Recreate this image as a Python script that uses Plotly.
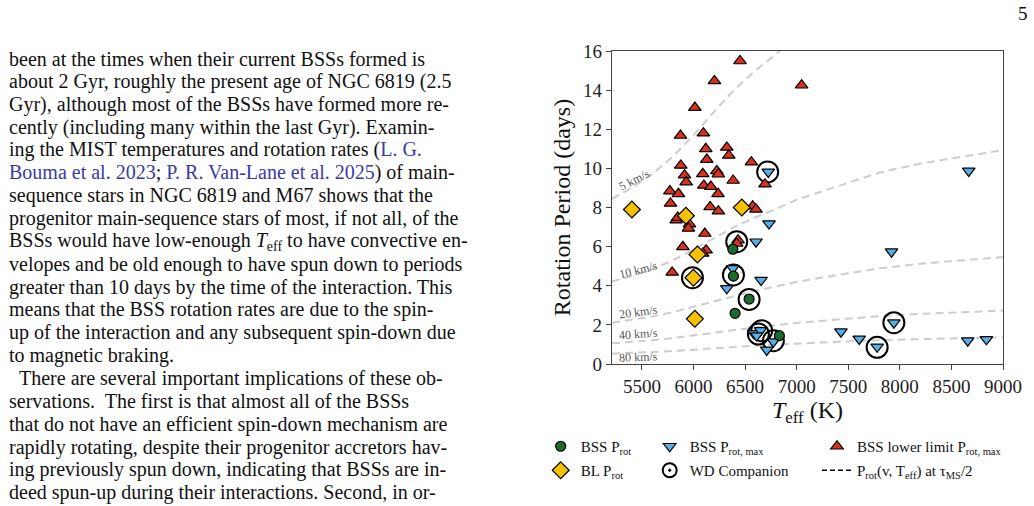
import plotly.graph_objects as go

# ---------------- data ----------------
bss_prot_T = [6381, 6387, 6539, 6403, 6832]
bss_prot_P = [5.87, 4.49, 3.32, 2.59, 1.45]

bl_prot_T = [5403, 5926, 6468, 6038, 5999, 6013]
bl_prot_P = [7.90, 7.58, 8.00, 5.60, 4.41, 2.31]

bss_max_T = [6725, 8668, 6732, 6606, 6381, 6655, 6323, 6585, 6650, 6612,
             6710, 6774, 7919, 7429, 7606, 7780, 7942, 8658, 8839]
bss_max_P = [9.82, 9.87, 7.18, 6.25, 4.89, 4.29, 3.87, 1.57, 1.72, 1.45,
             0.72, 1.14, 5.74, 1.65, 1.28, 0.88, 2.11, 1.19, 1.26]

bss_ll_T = [6451, 6203, 6013, 5874, 6096, 6119, 6323, 6342, 6129, 6561,
            5877, 6226, 5913, 6090, 6241, 5929, 6384, 6100, 6168, 6693,
            5771, 5854, 6238, 5777, 6161, 6241, 6574, 6606, 5832, 5848,
            5961, 5951, 6110, 6432, 6419, 5897, 6122, 6090, 5793, 7048]
bss_ll_P = [15.49, 14.47, 13.11, 11.68, 11.80, 11.00, 11.07, 10.66, 10.45, 10.32,
            10.15, 9.87, 9.65, 9.72, 9.70, 9.30, 9.38, 9.13, 9.07, 9.19,
            8.84, 8.70, 8.70, 8.21, 8.03, 7.81, 8.07, 7.90, 7.35, 7.49,
            7.15, 6.93, 6.67, 6.33, 6.16, 5.99, 5.82, 5.65, 4.68, 14.25]

wd_T = [6719, 6419, 5990, 6387, 6539, 6629, 6661, 6774, 7780, 7942]
wd_P = [9.82, 6.25, 4.41, 4.55, 3.30, 1.53, 1.70, 1.19, 0.85, 2.11]

# P_rot curve for v = 10 km/s (MIST radius at tau_MS/2)
curve_T = [5210, 5400, 5600, 5800, 6000, 6200, 6400, 6600, 6800, 7000,
           7400, 7800, 8200, 8600, 9000]
curve_P10 = [4.22, 4.50, 4.85, 5.30, 5.85, 6.45, 7.02, 7.50, 7.92, 8.40,
             9.10, 9.78, 10.25, 10.60, 10.93]
velocities = [5, 10, 20, 40, 80]
vel_labels = ["5 km/s", "10 km/s", "20 km/s", "40 km/s", "80 km/s"]

x_ticks = [5500, 6000, 6500, 7000, 7500, 8000, 8500, 9000]
y_ticks = [0, 2, 4, 6, 8, 10, 12, 14, 16]

LINK = "<span style='color:#3a3aa6'>{}</span>"
paragraph = [
    "been at the times when their current BSSs formed is",
    "about 2 Gyr, roughly the present age of NGC 6819 (2.5",
    "Gyr), although most of the BSSs have formed more re-",
    "cently (including many within the last Gyr). Examin-",
    "ing the MIST temperatures and rotation rates (" + LINK.format("L. G."),
    LINK.format("Bouma et al. 2023") + "; " + LINK.format("P. R. Van-Lane et al. 2025") + ") of main-",
    "sequence stars in NGC 6819 and M67 shows that the",
    "progenitor main-sequence stars of most, if not all, of the",
    "BSSs would have low-enough <i>T</i><sub>eff</sub> to have convective en-",
    "velopes and be old enough to have spun down to periods",
    "greater than 10 days by the time of the interaction. This",
    "means that the BSS rotation rates are due to the spin-",
    "up of the interaction and any subsequent spin-down due",
    "to magnetic braking.",
    "\u2002There are several important implications of these ob-",
    "servations.  The first is that almost all of the BSSs",
    "that do not have an efficient spin-down mechanism are",
    "rapidly rotating, despite their progenitor accretors hav-",
    "ing previously spun down, indicating that BSSs are in-",
    "deed spun-up during their interactions. Second, in or-",
]

# ---------------- styling / layout ----------------
W, H = 1034, 506
ML, MR, MT, MB = 612, 31, 51, 142
PW, PH = W - ML - MR, H - MT - MB
FONT = "Liberation Serif"

GREEN = "#1b6b2f"
BLUE = "#58aee6"
RED = "#d8321f"
GOLD = "#f5c100"


def px_x(px):
    return (px - ML) / PW


def px_y(py):
    return (H - MB - py) / PH


fig = go.Figure()

# dashed curves
for v, lab in zip(velocities, vel_labels):
    fig.add_trace(go.Scatter(
        x=curve_T, y=[p * 10.0 / v for p in curve_P10], mode="lines",
        line=dict(color="#cdcdcd", width=2, dash="8px,5px"),
        showlegend=False, hoverinfo="skip"))

# WD companion circles
fig.add_trace(go.Scatter(
    x=wd_T, y=wd_P, mode="markers", showlegend=False,
    marker=dict(symbol="circle-open", size=21, color="black",
                line=dict(width=2, color="black"))))

fig.add_trace(go.Scatter(
    x=bss_ll_T, y=bss_ll_P, mode="markers", name="BSS lower limit P<sub>rot, max</sub>",
    legend="legend3",
    marker=dict(symbol="triangle-up", size=11, color=RED,
                line=dict(width=1.2, color="black"))))

fig.add_trace(go.Scatter(
    x=bss_max_T, y=bss_max_P, mode="markers", name="BSS P<sub>rot, max</sub>",
    legend="legend2",
    marker=dict(symbol="triangle-down", size=11, color=BLUE,
                line=dict(width=1.2, color="black"))))

fig.add_trace(go.Scatter(
    x=bl_prot_T, y=bl_prot_P, mode="markers", name="BL P<sub>rot</sub>",
    legend="legend4",
    marker=dict(symbol="diamond", size=13, color=GOLD,
                line=dict(width=1.2, color="black"))))

fig.add_trace(go.Scatter(
    x=bss_prot_T, y=bss_prot_P, mode="markers", name="BSS P<sub>rot</sub>",
    legend="legend",
    marker=dict(symbol="circle", size=10, color=GREEN,
                line=dict(width=1.2, color="black"))))

# legend-only entries
fig.add_trace(go.Scatter(
    x=[None], y=[None], mode="markers", name="WD Companion", legend="legend5",
    marker=dict(symbol="circle-open-dot", size=14, color="black",
                line=dict(width=2, color="black"))))
fig.add_trace(go.Scatter(
    x=[None], y=[None], mode="lines", legend="legend6",
    name="P<sub>rot</sub>(v, T<sub>eff</sub>) at \u03c4<sub>MS</sub>/2",
    line=dict(color="black", width=1.6, dash="5px,3px")))

# curve labels
label_px = [(634, 180, -27), (638, 270, -14), (638, 312, -8), (638, 334, -4), (638, 357, -2)]
annotations = []
for lab, (lx, ly, ang) in zip(vel_labels, label_px):
    annotations.append(dict(
        x=px_x(lx), y=px_y(ly), xref="paper", yref="paper", text=lab,
        showarrow=False, textangle=ang, xanchor="center", yanchor="middle",
        font=dict(family=FONT, size=12, color="#555555")))

# paragraph text
line0, dy = 58.5, 22.86
for i, line in enumerate(paragraph):
    annotations.append(dict(
        x=px_x(7), y=px_y(line0 + i * dy), xref="paper", yref="paper",
        text=line, showarrow=False, xanchor="left", yanchor="middle",
        font=dict(family=FONT, size=20, color="#111111")))

# page number
annotations.append(dict(
    x=px_x(1023), y=px_y(14), xref="paper", yref="paper", text="5",
    showarrow=False, xanchor="center", yanchor="middle",
    font=dict(family=FONT, size=19, color="#111111")))

legend_common = dict(font=dict(family=FONT, size=15, color="#111111"),
                     bgcolor="rgba(0,0,0,0)", xanchor="left", yanchor="middle",
                     itemwidth=30, tracegroupgap=0)
legend_pos = {
    "legend": (562.7, 446.5), "legend2": (671.7, 446.5), "legend3": (839.0, 446.5),
    "legend4": (562.7, 470.5), "legend5": (671.7, 470.5), "legend6": (839.0, 470.5),
}
legend_layout = {}
for key, (sx, sy) in legend_pos.items():
    legend_layout[key] = dict(legend_common, x=px_x(sx - 22), y=px_y(sy))

axis_common = dict(showline=True, linecolor="#444444", linewidth=1.3, mirror=True,
                   ticks="outside", ticklen=5, tickwidth=1.2, tickcolor="#444444",
                   showgrid=False, zeroline=False,
                   tickfont=dict(family=FONT, size=19, color="#222222"))

fig.update_layout(
    width=W, height=H, margin=dict(l=ML, r=MR, t=MT, b=MB),
    paper_bgcolor="white", plot_bgcolor="white",
    showlegend=True,
    xaxis=dict(axis_common, range=[5210, 9000], tickvals=x_ticks,
               title=dict(text="<i>T</i><sub>eff</sub> (K)", standoff=3,
                          font=dict(family=FONT, size=24, color="#111111"))),
    yaxis=dict(axis_common, range=[0, 16], tickvals=y_ticks,
               title=dict(text="Rotation Period (days)", standoff=5,
                          font=dict(family=FONT, size=24, color="#111111"))),
    annotations=annotations,
    **legend_layout,
)

fig.write_html("out.html")
